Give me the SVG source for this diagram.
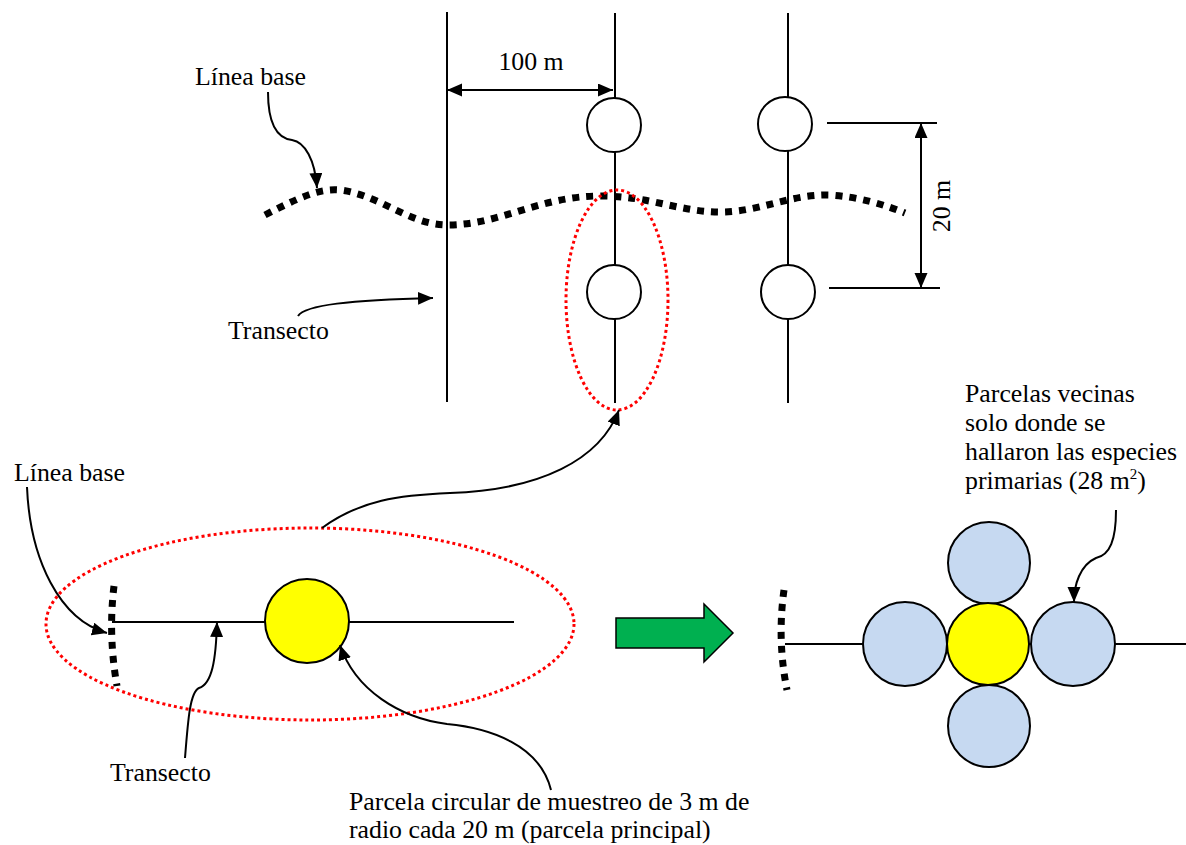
<svg xmlns="http://www.w3.org/2000/svg" width="1186" height="845" viewBox="0 0 1186 845">
<defs>
<marker id="ah" markerUnits="userSpaceOnUse" markerWidth="16" markerHeight="14" refX="15" refY="6.5" orient="auto-start-reverse">
<path d="M0,0 L15,6.5 L0,13 z" fill="#000"/>
</marker>
</defs>
<style>
.ln{stroke:#000;stroke-width:2;fill:none}
.arr{stroke:#000;stroke-width:2;fill:none;marker-end:url(#ah)}
.dash{stroke:#000;stroke-width:7;fill:none;stroke-dasharray:7 7}
.red{stroke:#ff0000;stroke-width:3;fill:none;stroke-dasharray:3 3}
.plot{fill:#fff;stroke:#000;stroke-width:2}
.yel{fill:#ffff00;stroke:#000;stroke-width:2}
.blue{fill:#c6d9f1;stroke:#000;stroke-width:2}
text{font-family:"Liberation Serif","Times New Roman",serif;font-size:25.8px;fill:#000}
</style>
<rect width="1186" height="845" fill="#fff"/>
<g id="transects">
<line class="ln" x1="447" y1="12" x2="447" y2="402"/>
<line class="ln" x1="615" y1="13" x2="615" y2="403"/>
<line class="ln" x1="788" y1="13" x2="788" y2="403"/>
</g>
<g id="baseline-top">
<path class="dash" d="M265,215 C300,197 320,188 340,190 C380,195 410,225 447,225 C500,225 540,196 600,196 C650,196 680,212 720,212 C760,212 790,194 830,195 C860,197 885,205 905,213"/>
</g>
<g id="plot-1"><circle class="plot" cx="614" cy="125" r="27"/></g>
<g id="plot-2"><circle class="plot" cx="785" cy="124" r="27"/></g>
<g id="plot-3"><circle class="plot" cx="614" cy="292" r="27"/></g>
<g id="plot-4"><circle class="plot" cx="788" cy="292" r="27"/></g>
<g id="highlight-top"><ellipse class="red" cx="617" cy="300" rx="51" ry="110"/></g>
<g id="dim-100">
<line class="ln" x1="447" y1="90" x2="613" y2="90" marker-start="url(#ah)" marker-end="url(#ah)"/>
<text x="531" y="70" text-anchor="middle">100 m</text>
</g>
<g id="dim-20">
<line class="ln" x1="827" y1="123" x2="937" y2="123"/>
<line class="ln" x1="829" y1="288" x2="940" y2="288"/>
<line class="ln" x1="921" y1="123" x2="921" y2="288" marker-start="url(#ah)" marker-end="url(#ah)"/>
<text transform="translate(950,206) rotate(-90)" text-anchor="middle">20 m</text>
</g>
<g id="label-linea-top"><text x="195" y="85">Línea base</text></g>
<g id="label-transecto-top"><text x="228" y="339">Transecto</text></g>
<g id="detail-left">
<ellipse class="red" cx="310" cy="624" rx="264" ry="96"/>
<line class="ln" x1="112" y1="622" x2="514" y2="622"/>
<path class="dash" d="M114,586 Q108,635 117,686"/>
<circle class="yel" cx="307" cy="621" r="42"/>
</g>
<g id="label-linea-bottom"><text x="14" y="481">Línea base</text></g>
<g id="label-transecto-bottom"><text x="110" y="781">Transecto</text></g>
<g id="label-parcela">
<text x="349" y="810">Parcela circular de muestreo de 3 m de</text>
<text x="349" y="838">radio cada 20 m (parcela principal)</text>
</g>
<g id="green-arrow">
<path d="M616,618 L704,618 L704,604 L733,633 L704,662 L704,648 L616,648 z" fill="#00b050" stroke="#000" stroke-width="1.5"/>
</g>
<g id="detail-right">
<line class="ln" x1="785" y1="644" x2="1186" y2="644"/>
<path class="dash" d="M784,590 Q777,640 787,690"/>
<circle class="blue" cx="989" cy="563" r="41"/>
<circle class="blue" cx="989" cy="726" r="41"/>
<circle class="blue" cx="905" cy="644" r="42"/>
<circle class="blue" cx="1073" cy="644" r="42"/>
<circle class="yel" cx="988" cy="644" r="41"/>
</g>
<g id="label-vecinas">
<text x="965" y="402">Parcelas vecinas</text>
<text x="965" y="431">solo donde se</text>
<text x="965" y="460">hallaron las especies</text>
<text x="965" y="489">primarias (28 m<tspan font-size="15" dy="-10">2</tspan><tspan dy="10">)</tspan></text>
</g>
<g id="connectors">
<path class="arr" d="M268,92 C268,120 275,138 292,140 C305,142 315,160 317,188"/>
<path class="arr" d="M298,316 C305,305 350,300 433,298"/>
<path class="arr" d="M322,528 C360,500 400,495 450,493 C540,490 600,460 619,410"/>
<path class="arr" d="M27,487 C30,560 60,620 107,633"/>
<path class="arr" d="M185,758 C188,720 190,692 199,688 C212,684 216,660 217,622"/>
<path class="arr" d="M551,790 C540,745 490,728 447,724 C400,718 355,690 340,645"/>
<path class="arr" d="M1116,510 C1116,540 1110,555 1096,558 C1080,565 1074,585 1074,602"/>
</g>
</svg>
